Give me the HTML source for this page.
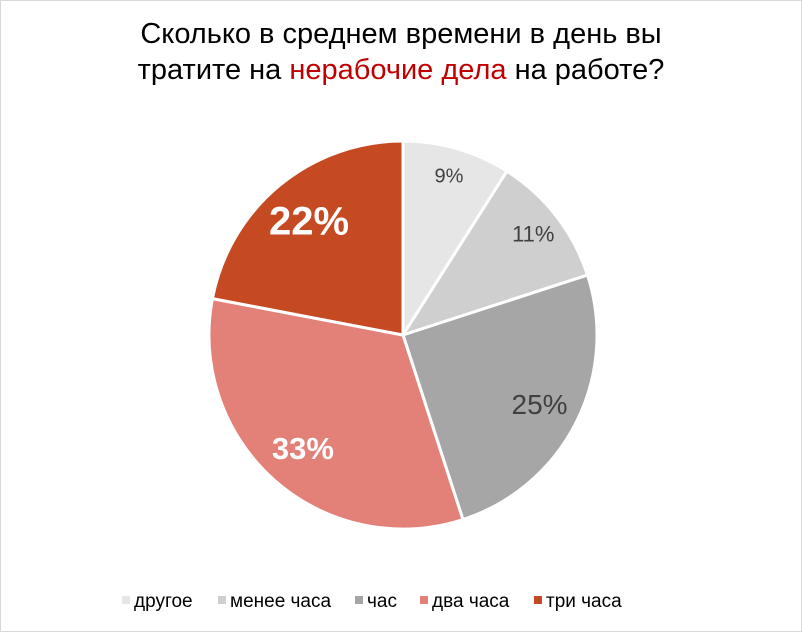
<!DOCTYPE html>
<html><head><meta charset="utf-8"><style>
body{margin:0;background:#fff}
#c{position:relative;width:800px;height:630px;border:1px solid #d9d9d9;background:#fff;font-family:"Liberation Sans",sans-serif;overflow:hidden}
.t{position:absolute;left:0;width:800px;text-align:center;font-size:29px;color:#000}
.lg{position:absolute;top:590px;font-size:19px;color:#000;white-space:nowrap}
.sq{display:inline-block;width:8px;height:8px;margin-right:4px;vertical-align:3px}
</style></head><body>
<div id="c">
<div class="t" style="top:17px">Сколько в среднем времени в день вы</div>
<div class="t" style="top:53px">тратите на <span style="color:#c00000">нерабочие дела</span> на работе?</div>
<svg id="pie" width="800" height="630" style="position:absolute;left:0;top:0"></svg>
<div id="legend"></div>
</div>
<script>
const categories=["другое","менее часа","час","два часа","три часа"];
const values=[9,11,25,33,22];
const labels=["9%","11%","25%","33%","22%"];
const colors=["#e6e6e6","#d0cfcf","#a6a6a6","#e38078","#c54a22"];
const labelStyle=[["#404040",20,"normal",0.85],["#404040",22,"normal",0.85],["#404040",28,"normal",0.79],["#fff",31,"bold",0.78],["#fff",40,"bold",0.76]];
const legendX=[121,217,354,419,533];
const svg=document.getElementById('pie');
const NS="http://www.w3.org/2000/svg";
const cx=402,cy=334,r=194;
const total=values.reduce((a,b)=>a+b,0);
let a0=0;
values.forEach((v,i)=>{
  const a1=a0+v/total*2*Math.PI;
  const p=a=>[cx+r*Math.sin(a),cy-r*Math.cos(a)];
  const [x0,y0]=p(a0),[x1,y1]=p(a1);
  const path=document.createElementNS(NS,'path');
  path.setAttribute('d',`M${cx},${cy}L${x0},${y0}A${r},${r} 0 ${a1-a0>Math.PI?1:0} 1 ${x1},${y1}Z`);
  path.setAttribute('fill',colors[i]);path.setAttribute('stroke','#fff');path.setAttribute('stroke-width','3');
  
  
  svg.appendChild(path);
  const am=(a0+a1)/2,s=labelStyle[i];
  const t=document.createElementNS(NS,'text');
  t.setAttribute('x',cx+r*s[3]*Math.sin(am));t.setAttribute('y',cy-r*s[3]*Math.cos(am));
  t.setAttribute('text-anchor','middle');t.setAttribute('dominant-baseline','central');
  t.setAttribute('font-family','Liberation Sans, sans-serif');t.setAttribute('font-size',s[1]);
  t.setAttribute('font-weight',s[2]);t.setAttribute('fill',s[0]);
  t.textContent=labels[i];
  
  
  svg.appendChild(t);
  a0=a1;
});
const lg=document.getElementById('legend');
categories.forEach((c,i)=>{
  const d=document.createElement('div');d.className='lg';d.style.left=legendX[i]+'px';
  d.innerHTML=`<span class="sq" style="background:${colors[i]}"></span>${c}`;
  
  
  lg.appendChild(d);
});
</script>
</body></html>
